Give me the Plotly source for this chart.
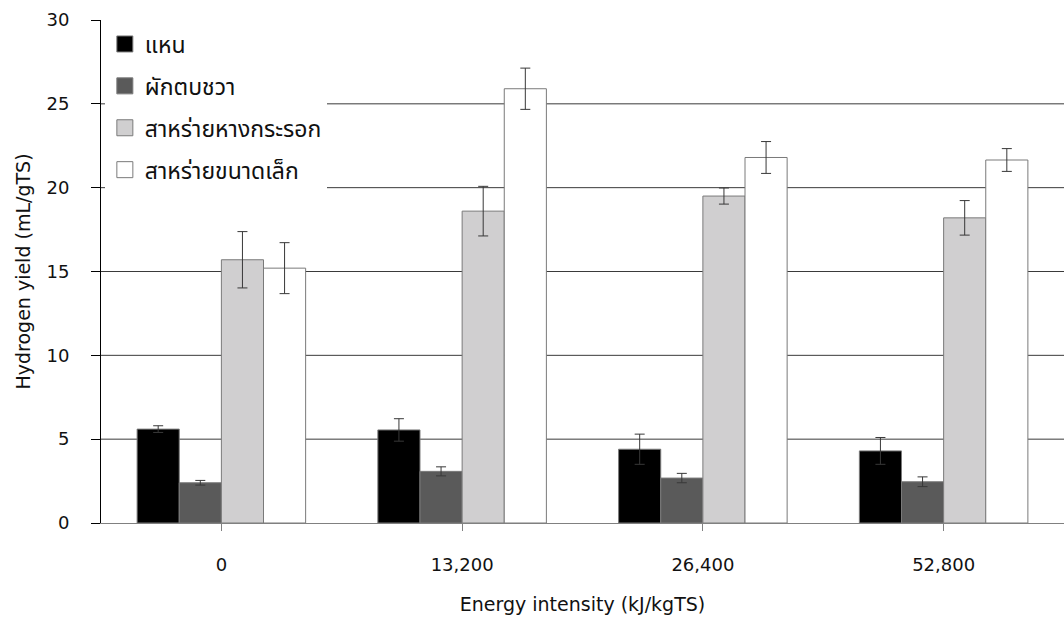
import plotly.graph_objects as go

# Energy intensity levels (kJ/kgTS)
energy_levels = ["0", "13,200", "26,400", "52,800"]

# Hydrogen yield (mL/gTS) per substrate, with standard deviations
names = ["แหน", "ผักตบชวา", "สาหร่ายหางกระรอก", "สาหร่ายขนาดเล็ก"]
yield_duckweed = [5.6, 5.55, 4.4, 4.3]
err_duckweed = [0.2, 0.67, 0.9, 0.8]
yield_hyacinth = [2.4, 3.08, 2.68, 2.46]
err_hyacinth = [0.14, 0.27, 0.28, 0.29]
yield_hydrilla = [15.7, 18.6, 19.5, 18.2]
err_hydrilla = [1.68, 1.48, 0.48, 1.03]
yield_microalgae = [15.2, 25.9, 21.8, 21.65]
err_microalgae = [1.52, 1.23, 0.95, 0.68]

series = [
    (names[0], yield_duckweed, err_duckweed, "#000000"),
    (names[1], yield_hyacinth, err_hyacinth, "#5a5a5a"),
    (names[2], yield_hydrilla, err_hydrilla, "#d0cfd0"),
    (names[3], yield_microalgae, err_microalgae, "#ffffff"),
]

FONT = "DejaVu Sans, Noto Sans Thai, Noto Sans, sans-serif"
EDGE = "#7a7a7a"

fig = go.Figure()
for i, (name, vals, errs, color) in enumerate(series):
    fig.add_trace(go.Bar(
        x=energy_levels,
        y=vals,
        name=name,
        showlegend=False,
        marker=dict(color=color, line=dict(color=EDGE, width=1)),
        error_y=dict(type="data", array=errs, visible=True,
                     color="#383838", thickness=1, width=5),
    ))

# legend entries drawn as larger square swatches
for i, (name, vals, errs, color) in enumerate(series):
    fig.add_trace(go.Scatter(
        x=[None], y=[None],
        mode="markers",
        name=name,
        legendgroup=f"g{i}",
        marker=dict(symbol="square", size=16, color=color,
                    line=dict(color=EDGE, width=1)),
        hoverinfo="skip",
    ))

fig.update_layout(
    width=1064,
    height=628,
    margin=dict(l=101, r=0, t=20, b=105),
    paper_bgcolor="white",
    plot_bgcolor="white",
    barmode="group",
    bargap=0.30,
    bargroupgap=0,
    font=dict(family=FONT, size=17, color="#111111"),
    legend=dict(
        x=0.004, y=0.995, xanchor="left", yanchor="top",
        bgcolor="white",
        font=dict(family=FONT, size=23, color="#111111"),
        traceorder="grouped",
        tracegroupgap=9,
        itemwidth=30,
        itemsizing="trace",
    ),
    showlegend=True,
)

fig.update_xaxes(
    type="category",
    showline=True, linecolor="#808080", linewidth=1,
    ticks="outside", ticklen=7, tickcolor="#808080",
    ticklabelstandoff=18,
    tickfont=dict(family=FONT, size=18, color="#111111"),
    title=dict(text="Energy intensity (kJ/kgTS)", standoff=24,
               font=dict(family=FONT, size=19, color="#111111")),
    showgrid=False,
)

fig.update_yaxes(
    range=[0, 30],
    tickvals=[0, 5, 10, 15, 20, 25, 30],
    showline=True, linecolor="#000000", linewidth=1,
    ticks="outside", ticklen=9, tickcolor="#000000",
    ticklabelstandoff=18,
    tickfont=dict(family=FONT, size=18, color="#111111"),
    title=dict(text="Hydrogen yield (mL/gTS)", standoff=10,
               font=dict(family=FONT, size=19, color="#111111")),
    showgrid=False,
    zeroline=False,
)

# horizontal reference lines at each interior tick
for v in [5, 10, 15, 20, 25]:
    fig.add_hline(y=v, line=dict(color="#3a3a3a", width=1), layer="below")

fig.write_html("out.html")
